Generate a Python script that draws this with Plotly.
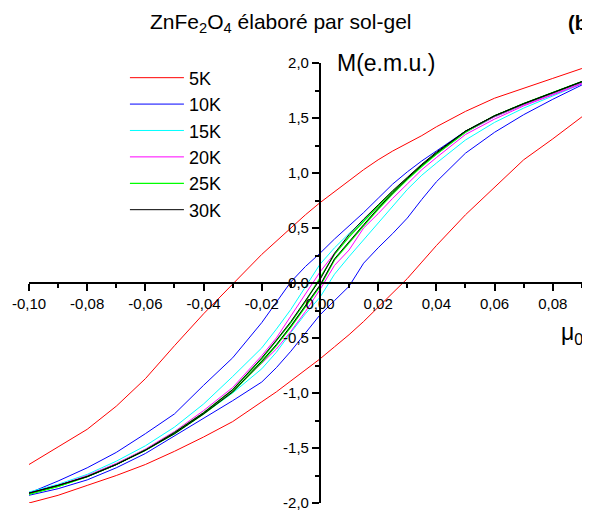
import plotly.graph_objects as go

# Applied field grid (common to every branch)
X = [-0.10, -0.09, -0.08, -0.07, -0.06, -0.05, -0.04, -0.03, -0.02, -0.015, -0.01, -0.005,
     0.0, 0.005, 0.01, 0.015, 0.02, 0.025, 0.03, 0.035, 0.04, 0.05, 0.06, 0.07, 0.08, 0.09, 0.095]

# Descending-field (upper) and ascending-field (lower) branches, M in e.m.u.
m5_desc = [-1.65, -1.49, -1.33, -1.12, -0.87, -0.57, -0.28, -0.01, 0.26, 0.38, 0.50, 0.62,
           0.73, 0.83, 0.93, 1.03, 1.12, 1.20, 1.27, 1.34, 1.42, 1.56, 1.68, 1.77, 1.86, 1.95, 1.99]
m5_asc = [-2.00, -1.93, -1.84, -1.75, -1.65, -1.53, -1.40, -1.26, -1.08, -0.99, -0.89, -0.79,
          -0.69, -0.58, -0.47, -0.35, -0.22, -0.09, 0.04, 0.19, 0.34, 0.62, 0.87, 1.12, 1.31, 1.51, 1.60]

m10_desc = [-1.91, -1.80, -1.68, -1.54, -1.37, -1.19, -0.93, -0.68, -0.36, -0.17, 0.01, 0.15,
            0.27, 0.40, 0.52, 0.64, 0.77, 0.90, 1.01, 1.11, 1.20, 1.38, 1.52, 1.63, 1.73, 1.83, 1.87]
m10_asc = [-1.93, -1.87, -1.79, -1.68, -1.55, -1.39, -1.23, -1.07, -0.90, -0.77, -0.62, -0.45,
           -0.29, -0.16, -0.03, 0.18, 0.32, 0.45, 0.59, 0.76, 0.92, 1.18, 1.37, 1.53, 1.67, 1.80, 1.85]

m15_desc = [-1.90, -1.83, -1.74, -1.62, -1.48, -1.31, -1.10, -0.85, -0.59, -0.42, -0.24, -0.04,
            0.17, 0.32, 0.45, 0.57, 0.70, 0.83, 0.95, 1.07, 1.17, 1.37, 1.51, 1.62, 1.72, 1.82, 1.86]
m15_asc = [-1.91, -1.84, -1.76, -1.65, -1.52, -1.37, -1.19, -1.00, -0.78, -0.63, -0.45, -0.28,
           -0.13, 0.08, 0.24, 0.39, 0.55, 0.70, 0.85, 0.98, 1.09, 1.30, 1.46, 1.59, 1.70, 1.81, 1.85]

m20_desc = [-1.91, -1.84, -1.75, -1.64, -1.51, -1.35, -1.16, -0.95, -0.66, -0.50, -0.30, -0.10,
            0.10, 0.27, 0.42, 0.56, 0.70, 0.83, 0.95, 1.07, 1.17, 1.37, 1.51, 1.62, 1.72, 1.82, 1.86]
m20_asc = [-1.91, -1.84, -1.76, -1.65, -1.52, -1.36, -1.18, -0.98, -0.73, -0.60, -0.44, -0.26,
           -0.06, 0.16, 0.30, 0.50, 0.63, 0.77, 0.90, 1.03, 1.14, 1.35, 1.49, 1.61, 1.71, 1.81, 1.86]

m25_desc = [-1.92, -1.85, -1.76, -1.65, -1.52, -1.36, -1.18, -0.97, -0.69, -0.53, -0.36, -0.17,
            0.04, 0.26, 0.42, 0.56, 0.70, 0.83, 0.95, 1.07, 1.18, 1.38, 1.52, 1.63, 1.73, 1.83, 1.87]
m25_asc = [-1.92, -1.85, -1.76, -1.65, -1.52, -1.37, -1.19, -0.99, -0.72, -0.57, -0.40, -0.22,
           -0.03, 0.21, 0.37, 0.52, 0.67, 0.81, 0.94, 1.06, 1.17, 1.37, 1.52, 1.63, 1.73, 1.83, 1.87]

m30_desc = [-1.91, -1.84, -1.76, -1.65, -1.52, -1.36, -1.18, -0.97, -0.68, -0.52, -0.35, -0.16,
            0.03, 0.27, 0.44, 0.58, 0.71, 0.84, 0.96, 1.08, 1.19, 1.38, 1.52, 1.63, 1.73, 1.83, 1.87]
m30_asc = [-1.91, -1.84, -1.76, -1.65, -1.52, -1.37, -1.19, -0.99, -0.71, -0.56, -0.39, -0.21,
           -0.02, 0.22, 0.38, 0.53, 0.68, 0.82, 0.95, 1.07, 1.18, 1.38, 1.52, 1.63, 1.73, 1.83, 1.87]

series_names = ["5K", "10K", "15K", "20K", "25K", "30K"]
series_colors = ["#ff0000", "#0000ff", "#00ffff", "#ff00ff", "#00ff00", "#000000"]
series_desc = [m5_desc, m10_desc, m15_desc, m20_desc, m25_desc, m30_desc]
series_asc = [m5_asc, m10_asc, m15_asc, m20_asc, m25_asc, m30_asc]

x_tickvals = [-0.10, -0.08, -0.06, -0.04, -0.02, 0.00, 0.02, 0.04, 0.06, 0.08]
x_ticktext = ["-0,10", "-0,08", "-0,06", "-0,04", "-0,02", "0,00", "0,02", "0,04", "0,06", "0,08"]
x_minorvals = [-0.09, -0.07, -0.05, -0.03, -0.01, 0.01, 0.03, 0.05, 0.07, 0.09]
y_tickvals = [-2.0, -1.5, -1.0, -0.5, 0.0, 0.5, 1.0, 1.5, 2.0]
y_ticktext = ["-2,0", "-1,5", "-1,0", "-0,5", "0,0", "0,5", "1,0", "1,5", "2,0"]
y_minorvals = [-1.75, -1.25, -0.75, -0.25, 0.25, 0.75, 1.25, 1.75]

X_RANGE = [-0.10, 0.0928]
Y_RANGE = [-2.0, 2.0]
yaxis_pos = (0 - X_RANGE[0]) / (X_RANGE[1] - X_RANGE[0])

fig = go.Figure()
for name, col, d, a in zip(series_names, series_colors, series_desc, series_asc):
    xs = X[::-1] + [None] + X
    ys = d[::-1] + [None] + a
    fig.add_trace(go.Scatter(x=xs, y=ys, mode="lines", name=name,
                             line=dict(color=col, width=1.3 if name == "25K" else 1)))

FONT = "Arial, 'Liberation Sans', sans-serif"

# The page body keeps its default 8px margin, so the figure is sized to end at the window edge.
fig.update_layout(
    width=582, height=507,
    margin=dict(l=21, r=0, t=55, b=12),
    paper_bgcolor="white", plot_bgcolor="white",
    font=dict(family=FONT, color="black", size=15),
    showlegend=True,
    xaxis=dict(range=X_RANGE, anchor="free", position=0.5, showline=True,
               linecolor="black", linewidth=2, ticks="outside", ticklen=7, tickwidth=2,
               tickcolor="black", tickmode="array", tickvals=x_tickvals, ticktext=x_ticktext,
               showgrid=False, zeroline=False, tickfont=dict(size=15),
               minor=dict(tickmode="array", tickvals=x_minorvals, ticks="outside", ticklen=4,
                          tickwidth=2, tickcolor="black", showgrid=False)),
    yaxis=dict(range=Y_RANGE, anchor="free", position=yaxis_pos, showline=True,
               linecolor="black", linewidth=2, ticks="outside", ticklen=7, tickwidth=2,
               tickcolor="black", tickmode="array", tickvals=y_tickvals, ticktext=y_ticktext,
               showgrid=False, zeroline=False, tickfont=dict(size=15),
               minor=dict(tickmode="array", tickvals=y_minorvals, ticks="outside", ticklen=4,
                          tickwidth=2, tickcolor="black", showgrid=False)),
    yaxis2=dict(range=Y_RANGE, overlaying="y", anchor="free", position=yaxis_pos,
                showline=False, ticks="inside", ticklen=7, tickwidth=2, tickcolor="black",
                tickmode="array", tickvals=y_tickvals, showticklabels=False,
                showgrid=False, zeroline=False,
                minor=dict(tickmode="array", tickvals=y_minorvals, ticks="inside", ticklen=4,
                           tickwidth=2, tickcolor="black", showgrid=False)),
    legend=dict(x=0.171, y=1.008, xanchor="left", yanchor="top", font=dict(size=18),
                itemwidth=54, bgcolor="rgba(0,0,0,0)", borderwidth=0),
    annotations=[
        dict(text="ZnFe<sub>2</sub>O<sub>4</sub> élaboré par sol-gel", xref="paper", yref="paper",
             x=0.449, y=1.091, xanchor="center", yanchor="middle", showarrow=False,
             font=dict(size=21)),
        dict(text="<b>(b)</b>", xref="paper", yref="paper", x=0.958, y=1.091,
             xanchor="left", yanchor="middle", showarrow=False, font=dict(size=20)),
        dict(text="M(e.m.u.)", xref="paper", yref="paper", x=0.5455, y=1.0,
             xanchor="left", yanchor="middle", showarrow=False, font=dict(size=23)),
        dict(text="μ<sub>0</sub>H (T)", xref="paper", yref="paper", x=0.944, y=0.385,
             xanchor="left", yanchor="middle", showarrow=False, font=dict(size=23)),
    ],
)

fig.write_html("out.html")
